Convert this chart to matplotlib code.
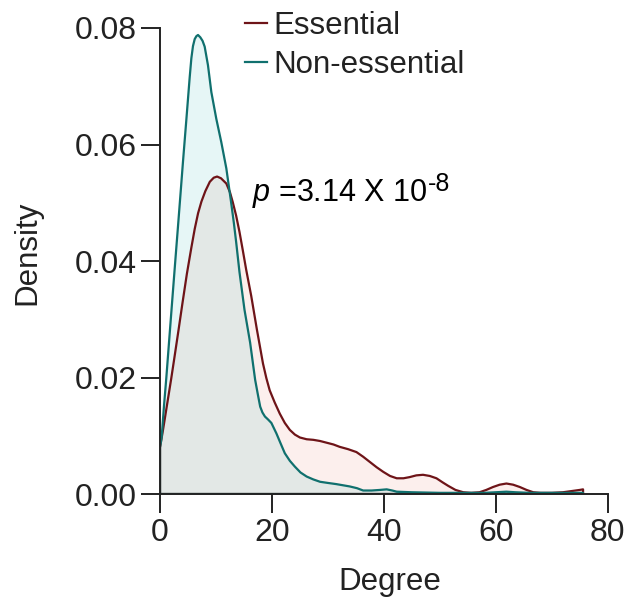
import matplotlib
matplotlib.use("Agg")
import matplotlib.pyplot as plt

plt.rcParams['font.family'] = ['Liberation Sans', 'DejaVu Sans']
plt.rcParams['mathtext.fontset'] = 'custom'
plt.rcParams['mathtext.rm'] = 'Liberation Sans'
plt.rcParams['mathtext.it'] = 'Liberation Sans:italic'

# density curves (degree, density)
ess_x = [0, 0.5, 1, 1.5, 2, 2.6, 3.3, 4, 4.8, 5.6, 6.2, 6.8, 7.4, 8.1, 8.9, 9.6,
         10.2, 10.9, 11.85, 12.5, 13.0, 13.6, 14.2, 14.8, 15.4, 16.3, 17.3, 18.4,
         19.0, 19.6, 20.5, 21.4, 22.3, 23.2, 24.1, 25, 26.2, 27.4, 28.6, 29.8, 31,
         32.1, 33.6, 35.1, 36.3, 37.5, 38.7, 39.9, 41.1, 42.3, 43.5, 44.6, 45.8,
         47.0, 48.2, 49.4, 50.5, 51.5, 52.8, 54.2, 55.6, 57.1, 58.3, 59.5, 60.7,
         61.9, 63.1, 64.3, 65.5, 66.7, 68, 70, 72, 73.5, 75, 75.6]
ess_y = [0.0080, 0.0108, 0.0138, 0.0168, 0.0198, 0.0236, 0.0281, 0.0327, 0.0378, 0.0423,
         0.0455, 0.0482, 0.0502, 0.0520, 0.0536, 0.0543, 0.0545, 0.0542, 0.0533, 0.0518,
         0.0501, 0.0478, 0.0450, 0.0418, 0.0385, 0.0340, 0.0283, 0.0224, 0.0199, 0.0178,
         0.0157, 0.0138, 0.0122, 0.0110, 0.0102, 0.0097, 0.0094, 0.0093, 0.0091, 0.0088,
         0.0085, 0.0081, 0.0077, 0.0072, 0.0064, 0.0055, 0.0046, 0.0038, 0.0031, 0.0027,
         0.0027, 0.0029, 0.0032, 0.0033, 0.0031, 0.0027, 0.0020, 0.0014, 0.0007, 0.0003,
         0.0002, 0.0003, 0.0007, 0.0012, 0.0016, 0.0018, 0.0016, 0.0012, 0.0007, 0.0003,
         0.0002, 0.0002, 0.0003, 0.0005, 0.0007, 0.0008]

non_x = [0, 0.3, 0.7, 1.13, 1.7, 2.3, 2.8, 3.2, 3.7, 4.1, 4.7, 5.3, 5.6, 5.89, 6.2,
         6.5, 6.79, 7.2, 7.6, 7.98, 8.57, 9.17, 10.06, 10.95, 11.85, 12.7, 13.2,
         13.6, 14.2, 15.1, 16.1, 17.0, 17.5, 17.9, 18.3, 18.75, 19.3, 19.9, 20.8,
         21.5, 22.3, 23.2, 24.1, 25.1, 26.2, 27.4, 28.6, 30, 31.5, 33.9, 35.2, 36.3,
         37.8, 39.3, 40.5, 41.5, 42.3, 45, 50.0, 55, 58.0, 60, 61.9, 63.5, 66.0,
         70, 75.6]
non_y = [0.0080, 0.0098, 0.0150, 0.0200, 0.0272, 0.0347, 0.0409, 0.0458, 0.0520, 0.0570,
         0.0642, 0.0715, 0.0748, 0.0769, 0.0781, 0.0786, 0.0788, 0.0784, 0.0778, 0.0768,
         0.0736, 0.0690, 0.0644, 0.0604, 0.0559, 0.0501, 0.0465, 0.0433, 0.0381, 0.0316,
         0.0260, 0.0196, 0.0170, 0.0150, 0.0140, 0.0133, 0.0128, 0.0122, 0.0104, 0.0088,
         0.0070, 0.0057, 0.0047, 0.0037, 0.0030, 0.0025, 0.0021, 0.0019, 0.0017, 0.0013,
         0.0010, 0.0006, 0.0006, 0.0007, 0.0008, 0.0006, 0.0004, 0.0003, 0.0002, 0.0002,
         0.0002, 0.0003, 0.0004, 0.0003, 0.0002, 0.0002, 0.0002]

labels = ['Essential', 'Non-essential']
line_colors = ['#6e1418', '#10706e']
fill_colors = ['#fcefed', '#58c3c3']
fill_alpha = [1.0, 0.15]

fig = plt.figure(figsize=(6.35, 6.06), dpi=100)
ax = fig.add_axes([0.252, 0.1848, 0.705, 0.769])

for xs, ys, lab, lc, fc, fa in zip([ess_x, non_x], [ess_y, non_y], labels,
                                   line_colors, fill_colors, fill_alpha):
    ax.fill_between(xs, 0, ys, color=fc, alpha=fa, lw=0)
    # closed outline like a density polygon
    px = [xs[0]] + xs + [xs[-1], xs[0]]
    py = [0] + ys + [0, 0]
    ax.plot(px, py, color=lc, lw=1.6, label=lab, solid_joinstyle='round')

ax.set_xlim(0, 80)
ax.set_ylim(0, 0.08)
ax.set_xticks([0, 20, 40, 60, 80])
ax.set_yticks([0, 0.02, 0.04, 0.06, 0.08])
ax.set_yticklabels(['0.00', '0.02', '0.04', '0.06', '0.08'])
for s in ['top', 'right']:
    ax.spines[s].set_visible(False)
for s in ['left', 'bottom']:
    ax.spines[s].set_linewidth(1.4)
    ax.spines[s].set_color('#222222')
ax.tick_params(length=14, width=1.4, color='#222222', labelsize=23, pad=3,
               labelcolor='#222222')
ax.set_xlabel('Degree', fontsize=22.5, color='#222222')
ax.set_ylabel('Density', fontsize=22.5, color='#222222')
ax.yaxis.set_label_coords(-0.263, 0.517)
ax.xaxis.set_label_coords(0.513, -0.157)

ptxt = ax.text(16.4, 0.0503, r'$p$ =3.14 X 10', fontsize=22, color='black',
               va='baseline')
ax.annotate('-8', xy=(1, 0), xycoords=ptxt, xytext=(0.5, 13.5),
            textcoords='offset points', fontsize=18, color='black',
            va='baseline', ha='left')

leg = ax.legend(loc='upper left', bbox_to_anchor=(0.161, 1.064), frameon=False,
                fontsize=22.5, handlelength=0.72, handletextpad=0.2,
                labelspacing=0.3, borderaxespad=0)
for t in leg.get_texts():
    t.set_color('#222222')

fig.savefig('out.png', dpi=100)
